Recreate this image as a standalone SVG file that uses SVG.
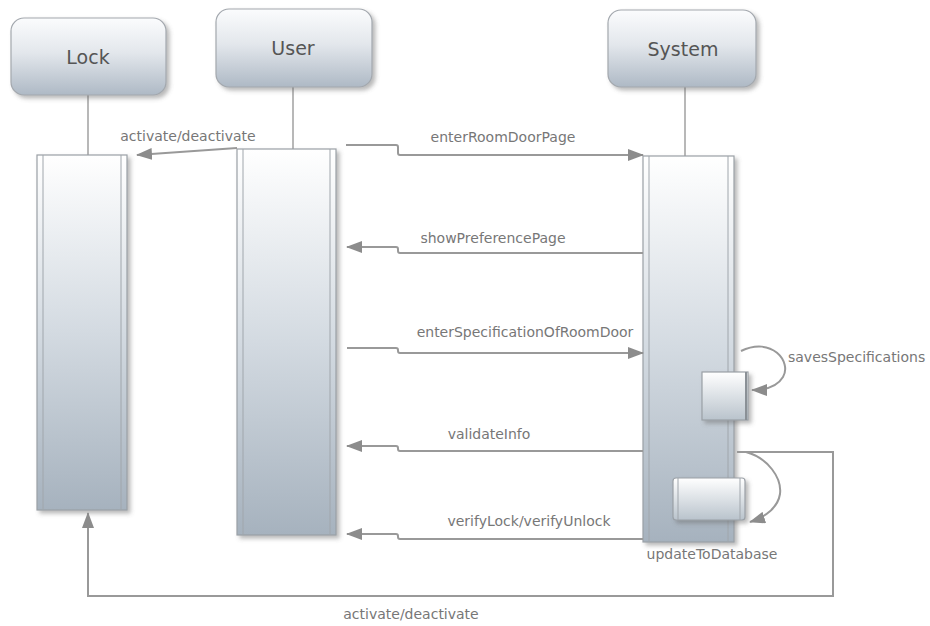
<svg xmlns="http://www.w3.org/2000/svg" width="930" height="626" viewBox="0 0 930 626">
<style>
.hdr{stroke:#a3a8ae;stroke-width:1.2;fill:url(#gHead);filter:url(#sh)}
.htxt{font-family:"DejaVu Sans",Verdana,sans-serif;font-size:19px;fill:#555;text-anchor:middle}
.act{stroke:#9aa0a6;stroke-width:1.2;fill:url(#gAct);filter:url(#sh)}
.inner{stroke:#a0a6ac;stroke-width:1;fill:none}
.life{stroke:#a0a0a0;stroke-width:1.5;fill:none}
.msg{stroke:#999;stroke-width:2;fill:none;marker-end:url(#arr)}
.lbl{font-family:"DejaVu Sans",Verdana,sans-serif;font-size:14px;fill:#777;text-anchor:middle}
</style>
<defs>
<linearGradient id="gHead" x1="0" y1="0" x2="0" y2="1">
<stop offset="0" stop-color="#fbfcfd"/>
<stop offset="0.45" stop-color="#e3e7ec"/>
<stop offset="1" stop-color="#aeb9c5"/>
</linearGradient>
<linearGradient id="gAct" x1="0" y1="0" x2="0" y2="1">
<stop offset="0" stop-color="#ffffff"/>
<stop offset="0.5" stop-color="#d3dae1"/>
<stop offset="1" stop-color="#a6b2be"/>
</linearGradient>
<linearGradient id="gSmall" x1="0" y1="0" x2="0" y2="1">
<stop offset="0" stop-color="#ffffff"/>
<stop offset="1" stop-color="#b9c3cc"/>
</linearGradient>
<filter id="sh" x="-20%" y="-10%" width="140%" height="130%">
<feDropShadow dx="3" dy="3" stdDeviation="2" flood-color="#666" flood-opacity="0.45"/>
</filter>
<marker id="arr" viewBox="0 0 16 12" refX="15" refY="6" markerWidth="16" markerHeight="12" markerUnits="userSpaceOnUse" orient="auto">
<path d="M0,0 L16,6 L0,12 Z" fill="#8c8c8c"/>
</marker>
</defs>

<g id="lifelines">
<line class="life" x1="88" y1="95" x2="88" y2="155"/>
<line class="life" x1="293" y1="87" x2="293" y2="149"/>
<line class="life" x1="685" y1="87" x2="685" y2="156"/>
</g>

<g id="node-lock">
<rect class="hdr" x="11" y="18" width="155" height="77" rx="13"/>
<text class="htxt" x="88" y="64">Lock</text>
<rect class="act" x="37" y="155" width="90" height="355"/>
<line class="inner" x1="43" y1="155" x2="43" y2="510"/>
<line class="inner" x1="121" y1="155" x2="121" y2="510"/>
</g>

<g id="node-user">
<rect class="hdr" x="216" y="9" width="156" height="78" rx="13"/>
<text class="htxt" x="293" y="55">User</text>
<rect class="act" x="237" y="149" width="99" height="386"/>
<line class="inner" x1="243" y1="149" x2="243" y2="535"/>
<line class="inner" x1="330" y1="149" x2="330" y2="535"/>
</g>

<g id="node-system">
<rect class="hdr" x="608" y="10" width="148" height="77" rx="13"/>
<text class="htxt" x="683" y="56">System</text>
<rect class="act" x="643" y="156" width="91" height="386"/>
<line class="inner" x1="649" y1="156" x2="649" y2="542"/>
<line class="inner" x1="728" y1="156" x2="728" y2="542"/>
</g>

<g id="node-saves">
<rect x="702" y="372" width="46" height="48" fill="url(#gSmall)" stroke="#9aa0a6" stroke-width="1.2" filter="url(#sh)"/>
<line x1="746" y1="372" x2="746" y2="420" stroke="#8a9096" stroke-width="2"/>
</g>

<g id="node-update">
<rect x="673" y="478" width="72" height="42" rx="3" fill="url(#gSmall)" stroke="#9aa0a6" stroke-width="1.2" filter="url(#sh)"/>
<line class="inner" x1="678" y1="478" x2="678" y2="520"/>
<line class="inner" x1="740" y1="478" x2="740" y2="520"/>
</g>

<g id="connectors">
<path class="msg" d="M237,148 L137,155"/>
<path class="msg" d="M346,145 H396 Q398,145 398,147 V153 Q398,155 400,155 H643"/>
<path class="msg" d="M643,253 H400 Q398,253 398,251 V249 Q398,247 396,247 H347"/>
<path class="msg" d="M347,348 H396 Q398,348 398,350 V351 Q398,353 400,353 H643"/>
<path class="msg" d="M643,451 H400 Q398,451 398,449 V448 Q398,446 396,446 H347"/>
<path class="msg" d="M643,539 H400 Q398,539 398,537 V536 Q398,534 396,534 H347"/>
<path class="msg" d="M741,351 C772,336 792,362 783,377 C777,387 766,390 752,390"/>
<path class="msg" d="M746,452 C768,458 782,478 780,494 C778,507 766,517 750,522"/>
<path class="msg" d="M737,452 H833 V596 H88 V513"/>
</g>

<g id="labels">
<text class="lbl" x="188" y="141">activate/deactivate</text>
<text class="lbl" x="503" y="142">enterRoomDoorPage</text>
<text class="lbl" x="493" y="243">showPreferencePage</text>
<text class="lbl" x="525" y="337">enterSpecificationOfRoomDoor</text>
<text class="lbl" x="788" y="362" style="text-anchor:start">savesSpecifications</text>
<text class="lbl" x="489" y="439">validateInfo</text>
<text class="lbl" x="529" y="526">verifyLock/verifyUnlock</text>
<text class="lbl" x="712" y="559">updateToDatabase</text>
<text class="lbl" x="411" y="619">activate/deactivate</text>
</g>
</svg>
